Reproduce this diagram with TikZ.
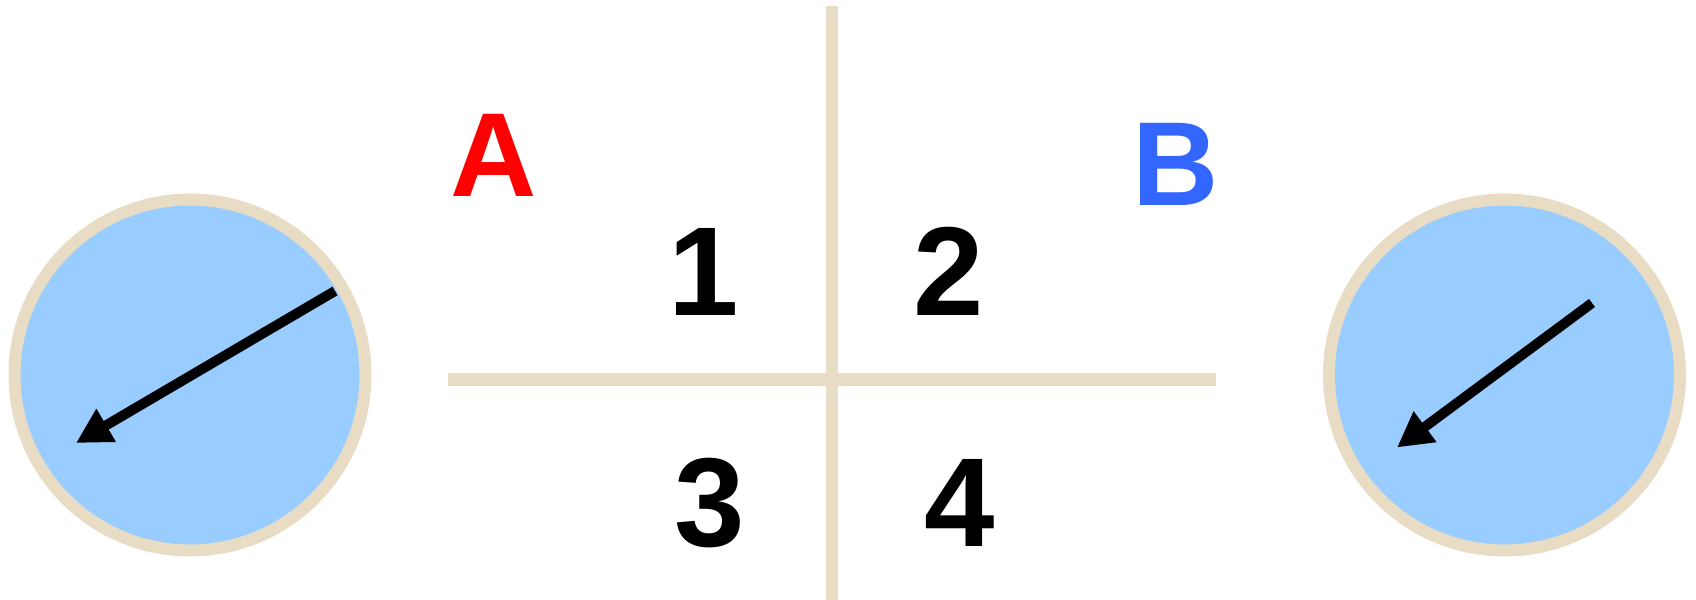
\documentclass[tikz,border=0pt]{standalone}
\usepackage{fontspec}
\setmainfont{Liberation Sans}
\usepackage{tikz}
\usetikzlibrary{arrows.meta}
\definecolor{ringcol}{RGB}{232,220,196}
\definecolor{discol}{RGB}{153,204,255}
\definecolor{labred}{RGB}{255,0,0}
\definecolor{labblue}{RGB}{51,102,255}

\tikzset{
  disc/.style={draw=ringcol, fill=discol, line width=0.12cm},
  axis/.style={draw=ringcol, line width=0.125cm},
  spin/.style={line width=0.1cm, -{Triangle[length=0.35cm, width=0.36cm]}},
  quad/.style={font=\fontsize{36}{36}\selectfont\bfseries, inner sep=0pt},
  lab/.style={font=\fontsize{34}{34}\selectfont\bfseries, inner sep=0pt}
}

\begin{document}
\begin{tikzpicture}
\useasboundingbox (0,0) rectangle (16.96,6);

\draw[disc] (1.90,2.25) circle (1.755);
\draw[disc] (15.045,2.25) circle (1.755);

\draw[axis] (4.48,2.205) -- (12.16,2.205);
\draw[axis] (8.32,0) -- (8.32,5.94);

\node[lab, text=labred] (A) at (4.94,4.445) {A};
\node[lab, text=labblue] (B) at (11.755,4.355) {B};

\foreach \x/\y/\n in {
    7.04/3.285/1, 9.485/3.285/2,
    7.10/0.965/3, 9.60/0.975/4}
    \node[quad] (q\n) at (\x,\y) {\n};

% arrows inside the discs
\coordinate (la) at (3.35,3.09);
\coordinate (lb) at (0.76,1.57);
\coordinate (ra) at (15.92,2.97);
\coordinate (rb) at (13.97,1.525);
\draw[spin] (la) -- (lb);
\draw[spin] (ra) -- (rb);
\end{tikzpicture}
\end{document}
